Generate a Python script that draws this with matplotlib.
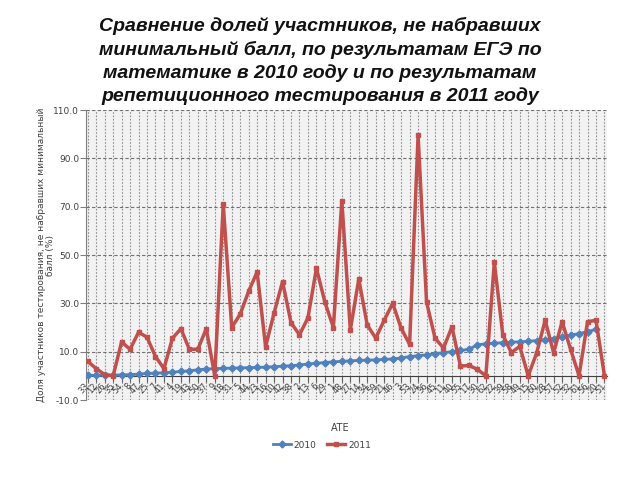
import matplotlib
matplotlib.use("Agg")
import matplotlib.pyplot as plt
import numpy as np

title = ("Сравнение долей участников, не набравших\n"
         "минимальный балл, по результатам ЕГЭ по\n"
         "математике в 2010 году и по результатам\n"
         "репетиционного тестирования в 2011 году")
ylabel = "Доля участников тестирования, не набравших минимальный\nбалл (%)"
xlabel = "АТЕ"

series_2010 = [0.2, 0.2, 0.3, 0.3, 0.4, 0.5, 0.7, 1.0, 1.1, 1.3, 1.5, 1.8, 2.1, 2.5, 2.8, 3.0,
               3.1, 3.2, 3.3, 3.4, 3.5, 3.6, 3.8, 4.0, 4.2, 4.5, 4.9, 5.2, 5.5, 5.8, 6.0,
               6.2, 6.4, 6.5, 6.6, 6.8, 7.0, 7.4, 8.0, 8.3, 8.7, 9.2, 9.6, 10.0, 10.5, 11.0,
               12.8, 13.3, 13.5, 13.7, 13.9, 14.1, 14.3, 14.6, 15.0, 15.4, 16.0, 16.8, 17.5, 18.3, 19.2,
               np.nan]
series_2011 = [6, 3, 0.5, 0, 14, 11, 18, 16, 8, 3, 15.5, 19.5, 11, 11, 19.5, 0,
               71, 20, 25.5, 35, 43, 12, 26, 39, 22, 17, 24, 44.5, 30.5, 20,
               72.5, 19, 40, 21, 15.6, 23, 30, 19.7, 13, 99.5, 30.5, 15.6, 11.5, 20.3,
               4, 4.3, 2.7, 0, 47, 17, 9.6, 12.2, 0, 9.5, 23, 9.5, 22.4, 11, 0, 22.4, 23, 0]
categories = [str(i) for i in [33, 12, 26, 35, 54, 8, 47, 25, 7, 41, 4, 19, 43, 50, 37, 9,
                               18, 31, 5, 44, 23, 16, 10, 42, 38, 2, 13, 6, 29, 1,
                               48, 27, 14, 34, 59, 21, 46, 3, 53, 24, 36, 45, 11, 40,
                               55, 17, 30, 62, 22, 39, 58, 49, 15, 60, 28, 57, 52, 32,
                               61, 56, 20, 51]]
yticks = [-10, 10, 30, 50, 70, 90, 110]

x = np.arange(len(series_2011))

fig = plt.figure(figsize=(6.4, 4.8), dpi=100)
fig.text(0.5, 1 - 17/480, title, ha="center", va="top", fontsize=14, fontweight="bold",
         fontstyle="italic", family="Liberation Sans", linespacing=1.4, color="#111111")

ax = fig.add_axes([86/640, 1-400/480, (607-86)/640, (400-110)/480])
ax.set_facecolor("#f2f2f2")
for s in ["top", "right"]:
    ax.spines[s].set_visible(False)
ax.spines["bottom"].set_position(("data", 0))
ax.spines["bottom"].set_color("#404040")
ax.spines["left"].set_color("#808080")

ax.set_ylim(-10, 110)
ax.set_xlim(-0.2, len(x) - 0.7)
ax.set_yticks(yticks)
ax.set_yticklabels([f"{v:.1f}" for v in yticks], fontsize=6.5, color="#404040")
ax.set_xticks(x)
ax.set_xticklabels(categories, rotation=50, fontsize=6, color="#404040",
                   ha="right", va="center", rotation_mode="anchor")
ax.grid(True, axis="x", color="#909090", linestyle=(0, (1.5, 1.5)), linewidth=0.8)
ax.grid(True, axis="y", color="#707070", linestyle=(0, (3, 2)), linewidth=0.8)
ax.set_axisbelow(True)
ax.tick_params(axis="x", length=4, color="#606060", pad=2)
ax.tick_params(axis="y", length=4, color="#808080", pad=1)

ax.plot(x, series_2010, color="#4f81bd", linewidth=2, marker="D", markersize=3.5,
        label="2010", zorder=3)
ax.plot(x, series_2011, color="#c0504d", linewidth=2.5, marker="s", markersize=2.5,
        label="2011", zorder=4)

fig.text(340/640, 1-428/480, xlabel, ha="center", va="center", fontsize=7, color="#404040")
fig.text(46/640, 1-255/480, ylabel, ha="center", va="center", rotation=90, fontsize=6.5,
         color="#404040", linespacing=1.1)

leg = fig.legend(loc="center", bbox_to_anchor=(322/640, 1-445/480), ncol=2, frameon=False,
                 fontsize=6.5, handlelength=2, columnspacing=1.2, handletextpad=0.3)
for t in leg.get_texts():
    t.set_color("#404040")

fig.savefig("out.png", dpi=100)
